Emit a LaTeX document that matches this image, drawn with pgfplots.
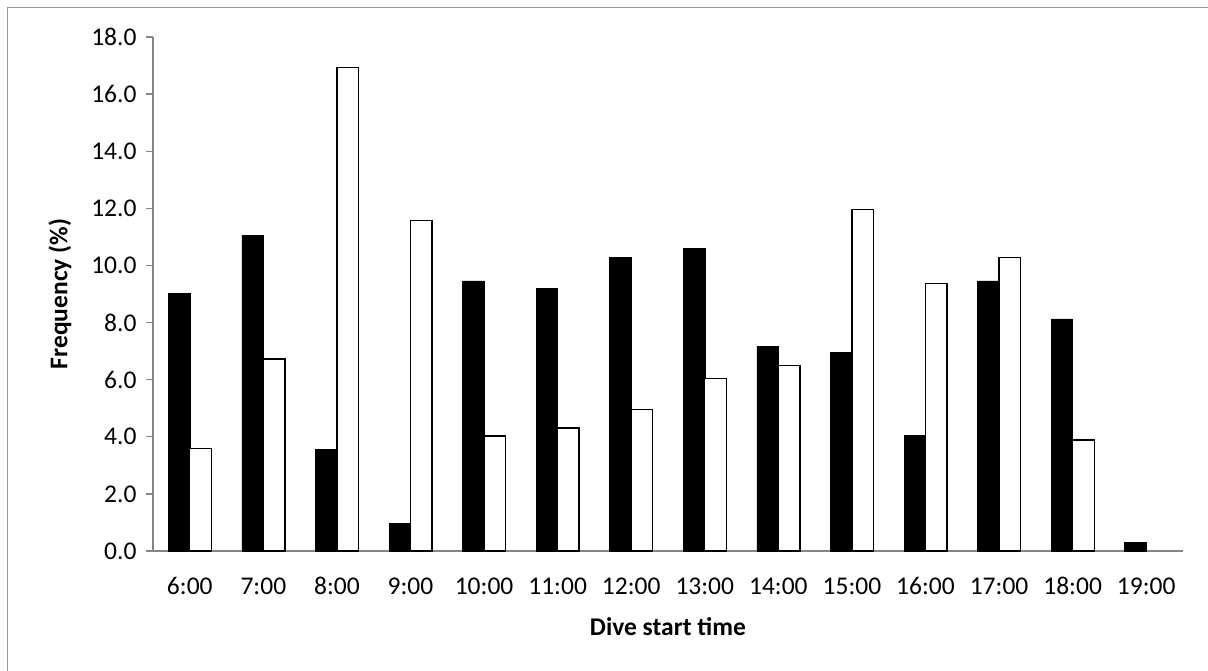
\documentclass[border=0pt]{standalone}
\usepackage{pgfplots}
\pgfplotsset{compat=1.18}
\usepackage{fontspec}
\setmainfont{Carlito}
\definecolor{axgray}{RGB}{134,134,134}
\definecolor{framegray}{RGB}{150,150,150}
\begin{document}
\begin{tikzpicture}[x=1bp,y=1bp]
\useasboundingbox (0,0) rectangle (1208,671);
\draw[framegray, line width=1.5bp] (7.5,0) -- (7.5,663.5) -- (1208,663.5);
\begin{axis}[
  at={(153bp,120bp)}, anchor=south west,
  scale only axis, width=1030bp, height=514bp,
  axis x line*=bottom, axis y line*=left,
  axis line style={axgray, line width=1.3bp, -},
  xmin=-0.5, xmax=13.5, ymin=0, ymax=18,
  ybar=0pt, bar width=21.5bp,
  xtick={0,...,13},
  xticklabels={6:00,7:00,8:00,9:00,10:00,11:00,12:00,13:00,14:00,15:00,16:00,17:00,18:00,19:00},
  x tick style={draw=none},
  extra x ticks={-0.5,0.5,...,13.5},
  extra x tick labels={},
  extra x tick style={major tick length=9bp, tick style={axgray, line width=1.3bp}},
  ytick={0,2,...,18},
  y tick style={axgray, line width=1.3bp},
  tick align=outside, major tick length=7bp,
  /pgf/number format/fixed,
  /pgf/number format/fixed zerofill,
  /pgf/number format/precision=1,
  /pgf/number format/assume math mode=true,
  ticklabel style={font=\fontsize{25.5bp}{30bp}\selectfont, black},
  xticklabel style={yshift=-16bp},
  yticklabel style={xshift=-6bp},
  xlabel={Dive start time},
  ylabel={Frequency (\%)},
  label style={font=\fontsize{25.5bp}{30bp}\selectfont\bfseries},
  xlabel style={at={(axis description cs:0.5,-0.148)}, anchor=center},
  ylabel style={at={(axis description cs:-0.0903,0.5)}, anchor=center},
  clip=false,
]
\addplot[fill=black, draw=black, line width=0.5bp] coordinates {
(0,9.03) (1,11.06) (2,3.55) (3,0.97) (4,9.46) (5,9.19) (6,10.27)
(7,10.61) (8,7.17) (9,6.95) (10,4.06) (11,9.46) (12,8.13) (13,0.30)};
\addplot[fill=white, draw=black, line width=1.3bp] coordinates {
(0,3.58) (1,6.72) (2,16.92) (3,11.57) (4,4.03) (5,4.31) (6,4.96)
(7,6.03) (8,6.50) (9,11.96) (10,9.36) (11,10.27) (12,3.89)};
\end{axis}
\end{tikzpicture}
\end{document}
